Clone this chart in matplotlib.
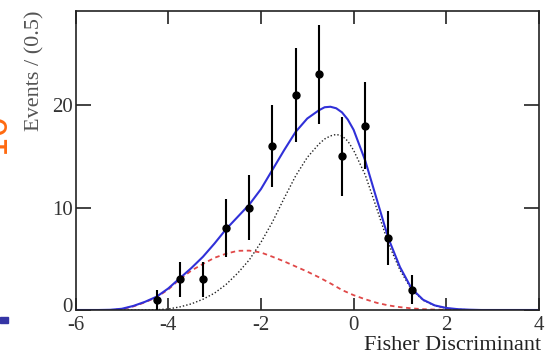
import matplotlib
matplotlib.use("Agg")
import matplotlib.pyplot as plt
from matplotlib.patches import Rectangle
from matplotlib.transforms import ScaledTranslation

plt.rcParams['font.family'] = ['Liberation Serif', 'DejaVu Serif']
plt.rcParams['axes.unicode_minus'] = False

# data points (bin centres, counts)
data_x = [-4.25, -3.75, -3.25, -2.75, -2.25, -1.75, -1.25, -0.75, -0.25, 0.25, 0.75, 1.25]
data_y = [1, 3, 3, 8, 10, 16, 21, 23, 15, 18, 7, 2]
data_err = [1.0, 1.73, 1.73, 2.83, 3.16, 4.0, 4.58, 4.8, 3.87, 4.24, 2.65, 1.41]

# fit curves
curve_x = [-6.0, -5.75, -5.5, -5.25, -5.0, -4.75, -4.5, -4.25, -4.0, -3.75, -3.5, -3.25,
           -3.0, -2.75, -2.5, -2.25, -2.0, -1.75, -1.5, -1.25, -1.0, -0.75, -0.625, -0.5,
           -0.375, -0.25, -0.125,
           0.0, 0.25, 0.5, 0.75, 1.0, 1.25, 1.5, 1.75, 2.0, 2.25, 2.5, 2.75,
           3.0, 3.25, 3.5, 3.75, 4.0]
total = [0, 0, 0, 0.02, 0.12, 0.4, 0.8, 1.3, 2.1, 3.1, 4.1, 5.2,
         6.5, 7.9, 9.1, 10.3, 11.8, 13.7, 15.6, 17.4, 18.7, 19.5, 19.8, 19.85,
         19.7, 19.3, 18.6,
         17.6, 14.6, 10.8, 7.0, 4.2, 2.1, 1.0, 0.45, 0.2, 0.08, 0.03, 0,
         0, 0, 0, 0, 0]
signal = [0, 0, 0, 0, 0, 0, 0, 0.03, 0.1, 0.3, 0.6, 1.05,
          1.65, 2.5, 3.6, 4.9, 6.6, 8.6, 10.9, 13.1, 14.9, 16.2, 16.7, 17.0,
          17.15, 17.0, 16.5,
          15.6, 13.2, 9.9, 6.5, 3.9, 2.0, 0.95, 0.42, 0.17, 0.06, 0.02, 0,
          0, 0, 0, 0, 0]
background = [0, 0, 0, 0, 0.08, 0.35, 0.75, 1.25, 2.0, 3.0, 3.85, 4.5,
              5.1, 5.5, 5.78, 5.8, 5.62, 5.2, 4.75, 4.25, 3.75, 3.2, 2.9, 2.6,
              2.28, 1.95, 1.7,
              1.45, 1.05, 0.7, 0.45, 0.28, 0.16, 0.08, 0.04, 0.02, 0, 0, 0,
              0, 0, 0, 0, 0]

x_ticks = [-6, -4, -2, 0, 2, 4]
y_ticks = [0, 10, 20]

fig = plt.figure(figsize=(5.55, 3.54), dpi=100)
ax = fig.add_axes([75.5 / 555, 1 - 310 / 354, (539 - 75.5) / 555, (310 - 11) / 354])

ax.plot(curve_x, background, color='#e04848', lw=1.3, ls=(0, (2.5, 2.0)))
ax.plot(curve_x, signal, color='#222222', lw=1.0, ls=(0, (1, 1.5)))
ax.plot(curve_x, total, color='#3030d8', lw=1.5)
ax.errorbar(data_x, data_y, yerr=data_err, fmt='o', color='black', ms=5,
            elinewidth=1.5, capsize=0, zorder=5)

ax.set_xlim(-6, 4)
ax.set_ylim(0, 29.2)
ax.set_xticks(x_ticks)
ax.set_yticks(y_ticks)
ax.tick_params(direction='in', top=True, right=True, length=9, width=1.2,
               labelsize=15, labelcolor='#333333', color='#222222')
ax.tick_params(axis='y', length=11, pad=2)
ax.tick_params(axis='x', pad=4)
ax.minorticks_off()
for s in ax.spines.values():
    s.set_linewidth(1.2)
    s.set_color('#222222')

# lift the "0" y tick label a little, as in the reference
fig.canvas.draw()
zero_lbl = ax.get_yticklabels()[0]
zero_lbl.set_transform(zero_lbl.get_transform() + ScaledTranslation(0, 5 / 100, fig.dpi_scale_trans))

ax.set_xlabel('Fisher Discriminant', fontsize=16, color='#222222')
ax.xaxis.set_label_coords(1.005, -0.088)
ax.xaxis.label.set_horizontalalignment('right')
ax.set_ylabel('Events / (0.5)', fontsize=16, color='#555555')
ax.yaxis.set_label_coords(-0.088, 1.003)
ax.yaxis.label.set_verticalalignment('center')
ax.yaxis.label.set_horizontalalignment('right')

# slide decorations at left edge
fig.text(11 / 555, 1 - 133 / 354, '10', rotation=90, ha='right', va='center',
         fontsize=24, color='#ff6a10', family='DejaVu Sans')
fig.patches.append(Rectangle((0, 1 - 323 / 354), 8 / 555, 6 / 354,
                             transform=fig.transFigure, color='#3535a5'))

fig.savefig('out.png', dpi=100)
